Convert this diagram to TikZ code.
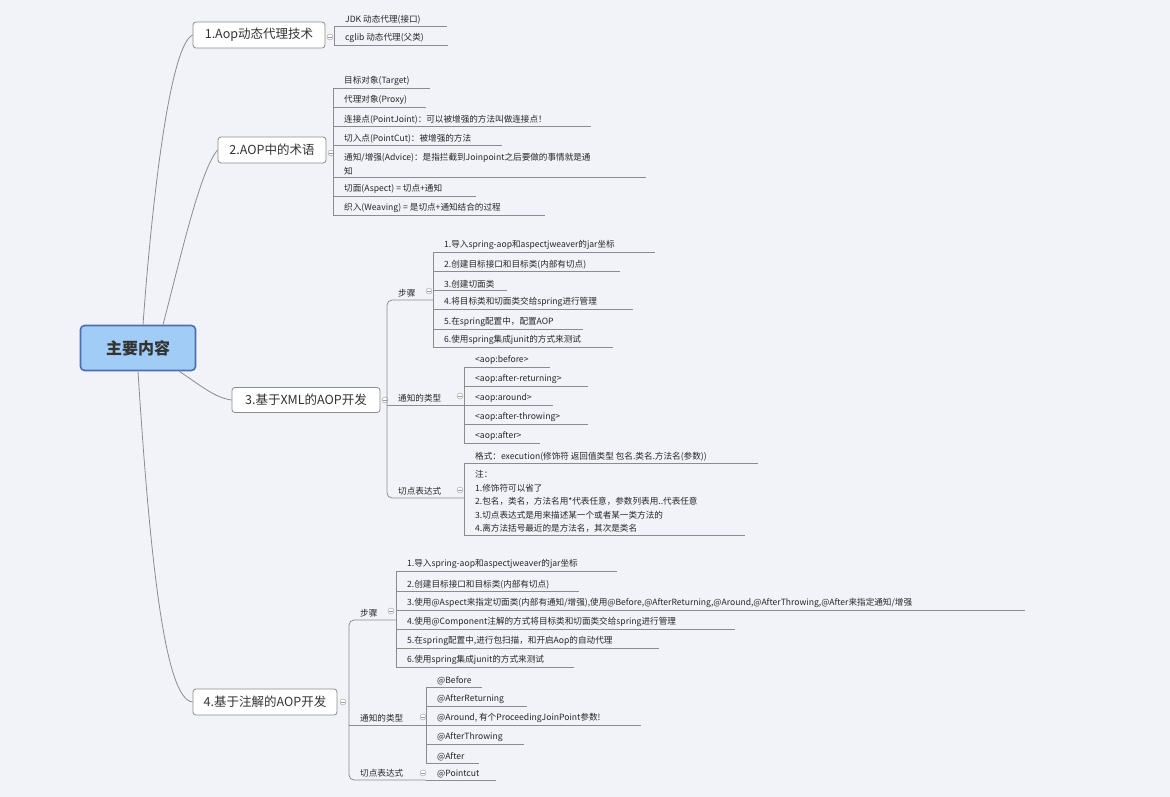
\documentclass[tikz,border=0pt]{standalone}
\usepackage{fontspec}
\setmainfont{Noto Sans CJK SC}
\begin{document}
\begin{tikzpicture}[x=1pt,y=-1pt,
 ln/.style={draw=black!45,line width=0.8pt},
 lf/.style={font=\fontsize{8.6}{13.5}\selectfont,inner sep=0pt,text=black!85},
 sub/.style={font=\fontsize{8.6}{12}\selectfont,inner sep=0pt,text=black!85,anchor=south west},
 lv/.style={draw=black!45,line width=0.8pt,fill=white,rounded corners=3pt,font=\fontsize{12.5}{14}\selectfont,text=black!80,inner sep=0pt},
 col/.style={circle,draw=black!40,fill=white,minimum size=6pt,inner sep=0pt,path picture={\draw[black!40] ([xshift=-1.8pt]path picture bounding box.center)--([xshift=1.8pt]path picture bounding box.center);}},
]
\fill[fill={rgb,255:red,241;green,243;blue,248}] (0,0) rectangle (1170,797);
\useasboundingbox (0,0) rectangle (1170,797);
\newcommand\leaf[5]{\draw[ln] (#1,#2) -- (#3,#2);
 \node[lf,anchor=south west] (#4) at (#1+11,#2-2) {#5};}
% central
\node[draw={rgb,255:red,80;green,110;blue,175},line width=1.6pt,fill={rgb,255:red,160;green,204;blue,246},rounded corners=4pt,minimum width=115pt,minimum height=45pt,font=\bfseries\fontsize{16}{18}\selectfont,text=black!80] (c) at (138,348) {主要内容};
\node[lv,minimum width=132pt,minimum height=26pt] (b1) at (259,35) {1.Aop动态代理技术};
\node[lv,minimum width=108pt,minimum height=26pt] (b2) at (272,150) {2.AOP中的术语};
\node[lv,minimum width=148pt,minimum height=25pt] (b3) at (306,400) {3.基于XML的AOP开发};
\node[lv,minimum width=144pt,minimum height=26pt] (b4) at (265,702) {4.基于注解的AOP开发};
\draw[ln] (c.north)++(5,0) coordinate (c1) .. controls (152,200) and (170,45) .. (b1.west);
\draw[ln] (c.north)++(25,0) coordinate (c2) .. controls (180,260) and (200,170) .. (b2.west);
\draw[ln] (c.south east)++(-17,0) coordinate (c3) .. controls (200,385) and (215,398) .. (b3.west);
\draw[ln] (c.south)++(0,0) coordinate (c4) .. controls (150,560) and (165,700) .. (b4.west);
% circles level1
\node[col] (k1) at (330,37) {}; \node[col] (k2) at (331,153) {};
\node[col] (k3) at (385,400) {}; \node[col] (k4) at (343,702) {};
% box1 leaves
\draw[ln] (334,26) -- (334,45);
\leaf{334}{26}{447}{l11}{JDK 动态代理(接口)}
\leaf{334}{45}{448}{l12}{cglib 动态代理(父类)}
% box2 leaves
\draw[ln] (333,88) -- (333,215);
\leaf{333}{88}{430}{l21}{目标对象(Target)}
\leaf{333}{107}{426}{l22}{代理对象(Proxy)}
\leaf{333}{126}{591}{l23}{连接点(PointJoint)：可以被增强的方法叫做连接点！}
\leaf{333}{145}{502}{l24}{切入点(PointCut)：被增强的方法}
\leaf{333}{177}{646}{l25}{\parbox[b]{300pt}{\fontsize{8.6}{13.5}\selectfont 通知/增强(Advice)：是指拦截到Joinpoint之后要做的事情就是通\\知}}
\leaf{333}{196}{476}{l26}{切面(Aspect) = 切点+通知}
\leaf{333}{215}{545}{l27}{织入(Weaving) = 是切点+通知结合的过程}
% box3
\draw[ln,rounded corners=5pt] (433,300) -- (387,300) -- (387,498) -- (464,498);
\draw[ln] (387,405) -- (464,405);
\node[sub] (s31) at (398,297) {步骤};
\node[sub] (s32) at (398,402) {通知的类型};
\node[sub] (s33) at (398,495) {切点表达式};
\node[col] (k31) at (429,291) {}; \node[col] (k32) at (460,396) {}; \node[col] (k33) at (460,490) {};
\draw[ln] (433,252) -- (433,347);
\leaf{433}{252}{655}{l31}{1.导入spring-aop和aspectjweaver的jar坐标}
\leaf{433}{271}{620}{l32}{2.创建目标接口和目标类(内部有切点)}
\leaf{433}{290}{507}{l33}{3.创建切面类}
\leaf{433}{309}{633}{l34}{4.将目标类和切面类交给spring进行管理}
\leaf{433}{329}{583}{l35}{5.在spring配置中，配置AOP}
\leaf{433}{347}{613}{l36}{6.使用spring集成junit的方式来测试}
\draw[ln] (464,367) -- (464,443);
\leaf{464}{367}{550}{l41}{<aop:before>}
\leaf{464}{386}{588}{l42}{<aop:after-returning>}
\leaf{464}{405}{553}{l43}{<aop:around>}
\leaf{464}{424}{588}{l44}{<aop:after-throwing>}
\leaf{464}{443}{540}{l45}{<aop:after>}
\draw[ln] (464,463) -- (464,535);
\leaf{464}{463}{758}{l51}{格式：execution(修饰符 返回值类型 包名.类名.方法名(参数))}
\leaf{464}{535}{745}{l52}{\parbox[b]{300pt}{\fontsize{8.6}{13.5}\selectfont 注：\\1.修饰符可以省了\\2.包名，类名，方法名用*代表任意，参数列表用..代表任意\\3.切点表达式是用来描述某一个或者某一类方法的\\4.离方法括号最近的是方法名，其次是类名}}
% box4
\draw[ln,rounded corners=5pt] (396,620) -- (349,620) -- (349,780) -- (426,780);
\draw[ln] (349,725) -- (426,725);
\node[sub] (s41) at (360,617) {步骤};
\node[sub] (s42) at (360,722) {通知的类型};
\node[sub] (s43) at (360,777) {切点表达式};
\node[col] (k41) at (391,611) {}; \node[col] (k42) at (423,717) {}; \node[col] (k43) at (423,773) {};
\draw[ln] (396,571) -- (396,667);
\leaf{396}{571}{617}{m31}{1.导入spring-aop和aspectjweaver的jar坐标}
\leaf{396}{591}{579}{m32}{2.创建目标接口和目标类(内部有切点)}
\leaf{396}{610}{1025}{m33}{3.使用@Aspect来指定切面类(内部有通知/增强),使用@Before,@AfterReturning,@Around,@AfterThrowing,@After来指定通知/增强}
\leaf{396}{629}{735}{m34}{4.使用@Component注解的方式将目标类和切面类交给spring进行管理}
\leaf{396}{648}{659}{m35}{5.在spring配置中,进行包扫描，和开启Aop的自动代理}
\leaf{396}{667}{574}{m36}{6.使用spring集成junit的方式来测试}
\draw[ln] (426,687) -- (426,763);
\leaf{426}{687}{482}{m41}{@Before}
\leaf{426}{706}{527}{m42}{@AfterReturning}
\leaf{426}{725}{641}{m43}{@Around, 有个ProceedingJoinPoint参数!}
\leaf{426}{744}{524}{m44}{@AfterThrowing}
\leaf{426}{763}{479}{m45}{@After}
\leaf{426}{780}{496}{m51}{@Pointcut}
\end{tikzpicture}
\end{document}
